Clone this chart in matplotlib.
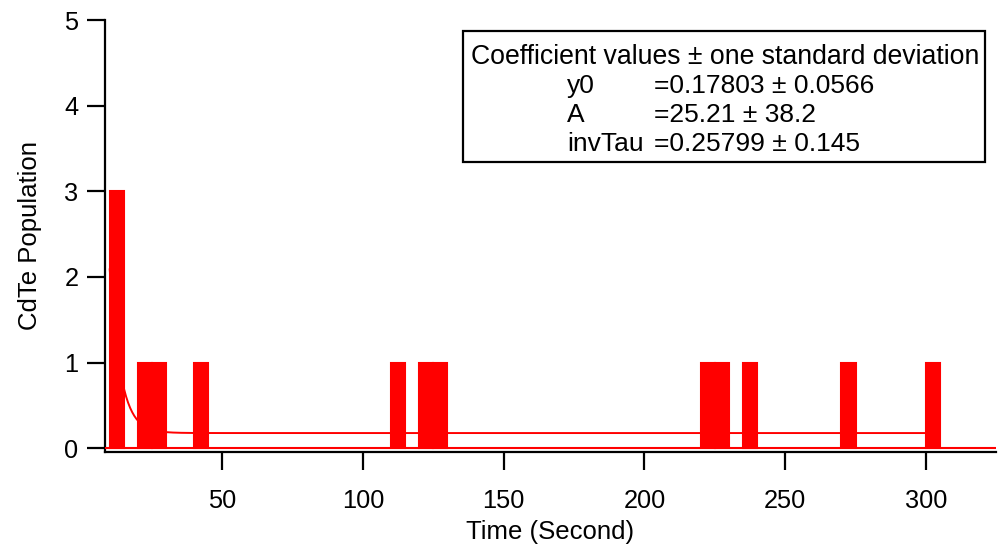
import numpy as np
import matplotlib
matplotlib.use("Agg")
import matplotlib.pyplot as plt
from matplotlib.patches import Rectangle

plt.rcParams['font.family'] = ['Liberation Sans', 'DejaVu Sans']

# Histogram of CdTe appearance times (5 s bins)
bin_left = [10, 20, 25, 40, 110, 120, 125, 220, 225, 235, 270, 300]
counts = [3, 1, 1, 1, 1, 1, 1, 1, 1, 1, 1, 1]
bin_width = 5

# Exponential fit coefficients: y = y0 + A * exp(-invTau * t)
y0, y0_err = 0.17803, 0.0566
A, A_err = 25.21, 38.2
inv_tau, inv_tau_err = 0.25799, 0.145
fit_range = (10, 300)

x_ticks = [50, 100, 150, 200, 250, 300]
y_ticks = [0, 1, 2, 3, 4, 5]

W, H = 998, 550
fig = plt.figure(figsize=(W / 100, H / 100), dpi=100)

def fx(px):
    return px / W

def fy(py):
    return 1 - py / H

ax_left, ax_right, ax_top, ax_bottom = 105, 996, 20, 451.7
ax = fig.add_axes([fx(ax_left), fy(ax_bottom), (ax_right - ax_left) / W,
                   (ax_bottom - ax_top) / H])

red = '#ff0000'
t = np.linspace(fit_range[0], fit_range[1], 800)
ax.plot(t, y0 + A * np.exp(-inv_tau * t), color=red, lw=1.4, zorder=2)
ax.bar(bin_left, counts, width=bin_width, align='edge', color=red,
       edgecolor=red, linewidth=1.5, zorder=3)
ax.axhline(0, color=red, lw=1.5, zorder=3)

ax.set_xlim(8.32, 324.9)
ax.set_ylim(-0.0397, 5)
ax.set_xticks(x_ticks)
ax.set_yticks(y_ticks)
ax.set_xticklabels([str(v) for v in x_ticks])
ax.set_yticklabels([str(v) for v in y_ticks])

for side in ('top', 'right'):
    ax.spines[side].set_visible(False)
for side in ('left', 'bottom'):
    ax.spines[side].set_linewidth(1.6)
ax.tick_params(axis='both', which='major', direction='out', length=13,
               width=1.6, labelsize=18.3, color='black')
ax.tick_params(axis='x', pad=14)
ax.tick_params(axis='y', pad=6)

ax.set_xlabel('Time (Second)', fontsize=18.5, labelpad=5)
ax.set_ylabel('CdTe Population', fontsize=18.5, labelpad=16)

# Fit-coefficient box
box = Rectangle((fx(463), fy(162)), (985 - 463) / W, (162 - 31) / H,
                transform=fig.transFigure, fill=False, ec='black', lw=1.6)
fig.patches.append(box)

fig.text(fx(725), fy(64), 'Coefficient values \u00b1 one standard deviation',
         ha='center', va='baseline', fontsize=19.2)
rows = [
    ('y0', f'={y0:.5f} \u00b1 {y0_err}'),
    ('A', f'={A} \u00b1 {A_err}'),
    ('invTau', f'={inv_tau:.5f} \u00b1 {inv_tau_err}'),
]
baselines = [93, 122, 151]
for (name, val), b in zip(rows, baselines):
    fig.text(fx(567), fy(b), name, ha='left', va='baseline', fontsize=19)
    fig.text(fx(654), fy(b), val, ha='left', va='baseline', fontsize=19)

fig.savefig('out.png', dpi=100)
